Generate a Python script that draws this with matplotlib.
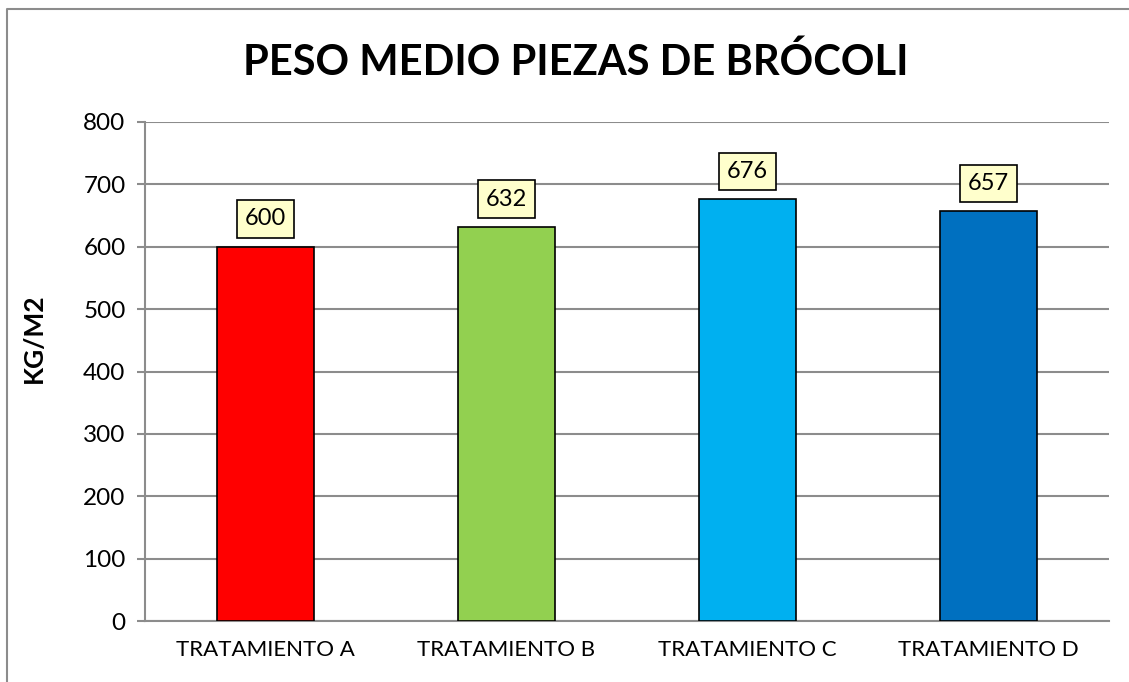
import matplotlib.pyplot as plt
from matplotlib.lines import Line2D

categorias = ['TRATAMIENTO A', 'TRATAMIENTO B', 'TRATAMIENTO C', 'TRATAMIENTO D']
peso = [600, 632, 676, 657]
colores = ['#FF0000', '#92D050', '#00B0F0', '#0070C0']

plt.rcParams['font.family'] = ['Lato', 'DejaVu Sans']

W, H = 1129, 682
fig = plt.figure(figsize=(W / 100, H / 100), dpi=100)
ax = fig.add_axes([145 / W, 1 - 621 / H, (1109 - 145) / W, (621 - 122) / H])

# marco exterior del grafico (sale por la derecha y abajo)
fig.lines.append(Line2D([7 / W, 7 / W, 1.05], [-0.05, 1 - 9 / H, 1 - 9 / H],
                        transform=fig.transFigure, color='#8C8C8C', linewidth=1.5))

x = range(len(categorias))
ax.bar(x, peso, width=0.4, color=colores, edgecolor='black', linewidth=1.2, zorder=3)

for xi, v in zip(x, peso):
    ax.annotate(str(v), (xi, v), xytext=(0, 20), textcoords='offset points',
                ha='center', va='center', fontsize=17,
                bbox=dict(boxstyle='square,pad=0.35', fc='#FFFFCC', ec='black', lw=1.2))

ax.set_xlim(-0.5, 3.5)
ax.set_ylim(0, 800)
ax.set_yticks(range(0, 801, 100))
ax.set_xticks(list(x))
ax.set_xticklabels(categorias, fontsize=16)
ax.tick_params(axis='y', labelsize=17.5, length=6, width=1.5, color='#8C8C8C', pad=8)
ax.tick_params(axis='x', length=0, pad=14)
ax.yaxis.grid(True, color='#8C8C8C', linewidth=1.5, zorder=0)
ax.set_axisbelow(True)
for s in ['top', 'right']:
    ax.spines[s].set_visible(False)
for s in ['left', 'bottom']:
    ax.spines[s].set_color('#8C8C8C')
    ax.spines[s].set_linewidth(1.5)

fig.text(576 / W, 1 - 62 / H, 'PESO MEDIO PIEZAS DE BRÓCOLI', ha='center', va='center',
         fontsize=30, fontweight='bold')
fig.text(34 / W, 1 - 338 / H, 'KG/M2', rotation=90, ha='center', va='center',
         fontsize=19, fontweight='bold')

fig.savefig('out.png', dpi=100)
